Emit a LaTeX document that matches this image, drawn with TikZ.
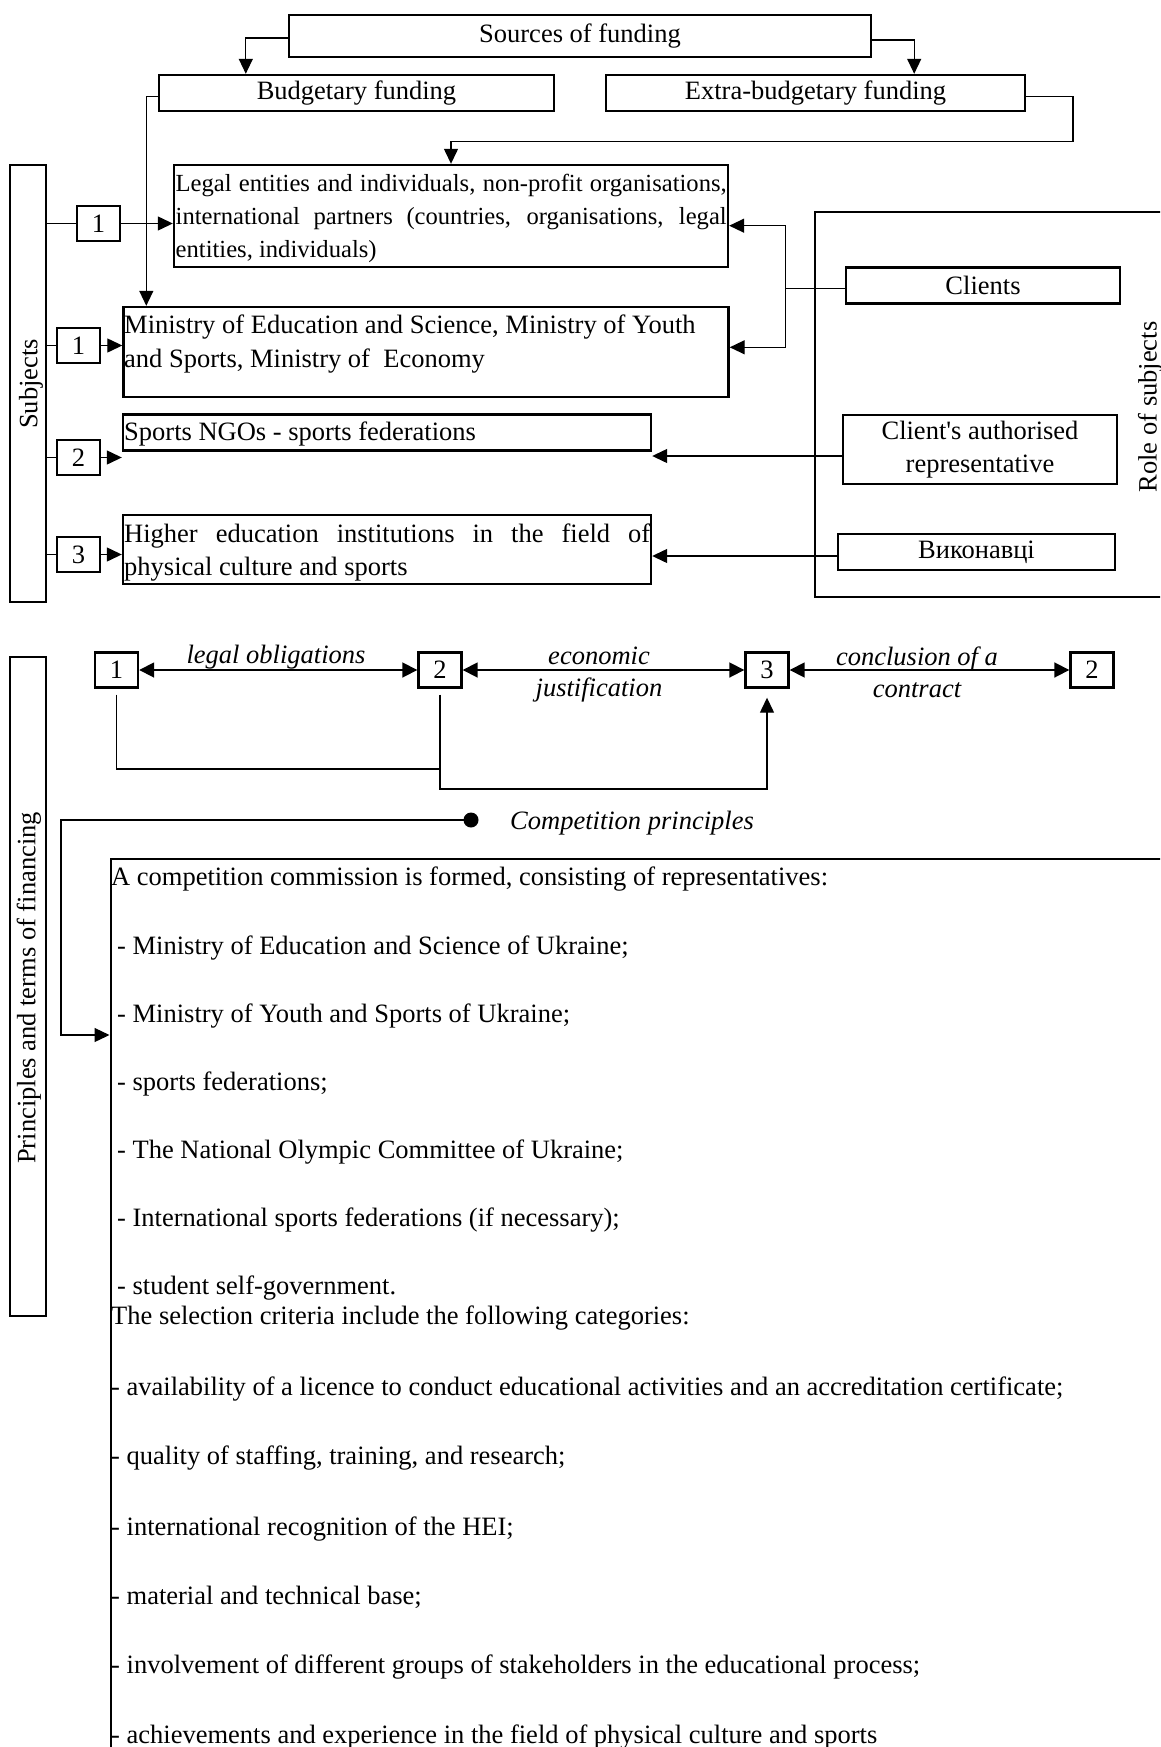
\documentclass[tikz,border=0pt]{standalone}
\usepackage{fontspec}
\setmainfont{Liberation Serif}
\usetikzlibrary{arrows.meta}
\begin{document}
\begin{tikzpicture}[x=1pt,y=-1pt,
  every node/.style={font=\fontsize{26.5}{32.5}\selectfont, inner sep=0pt},
  box/.style={draw, line width=2.4pt, inner sep=0pt, align=center},
  conn/.style={line width=1.3pt},
  arr/.style={conn, -{Triangle[length=15pt,width=14pt]}},
  darr/.style={line width=1.8pt, {Triangle[length=15pt,width=15pt]}-{Triangle[length=15pt,width=15pt]}},
  txt/.style={anchor=mid west, inner sep=0pt, yshift=-6.5pt},
  small/.style={font=\fontsize{24.6}{30}\selectfont},
  itx/.style={font=\fontsize{26.5}{32.5}\selectfont\itshape},
  numbox/.style={box, minimum width=43pt, minimum height=35pt},
]
\useasboundingbox (0,0) rectangle (1160,1747);
\fill[white] (0,0) rectangle (1160,1747);
\clip (0,0) rectangle (1160,1747);

% ---------- funding ----------
\node[box, minimum width=582pt, minimum height=42pt] (src) at (580,36) {Sources of funding};
\node[box, minimum width=395pt, minimum height=36pt] (bud) at (356.5,93) {Budgetary funding};
\node[box, minimum width=419pt, minimum height=36pt] (ext) at (815.5,93) {Extra-budgetary funding};

% ---------- subjects ----------
\node[box, minimum width=554pt, minimum height=102pt] (leg) at (451,216) {};
\node[box, minimum width=605pt, minimum height=90pt] (min) at (426,352) {};
\node[box, minimum width=528pt, minimum height=36pt] (ngo) at (387,432.5) {};
\node[box, minimum width=528pt, minimum height=69pt] (hei) at (387,549.5) {};

\node[txt, small] (leg1) at (175.5,183) {\makebox[551pt][s]{Legal entities and individuals, non-profit organisations,}};
\node[txt, small] (leg2) at (175.5,216) {\makebox[551pt][s]{international partners (countries, organisations, legal}};
\node[txt, small] (leg3) at (175.5,248.5) {entities, individuals)};
\node[txt] (min1) at (124,325) {Ministry of Education and Science, Ministry of Youth};
\node[txt] (min2) at (124,359) {and Sports, Ministry of\ \ Economy};
\node[txt] (ngo1) at (124,432) {Sports NGOs - sports federations};
\node[txt] (hei1) at (124,534) {\makebox[526pt][s]{Higher education institutions in the field of}};
\node[txt] (hei2) at (124,567) {physical culture and sports};

\node[box, minimum width=36pt, minimum height=437pt] (subj) at (28,383.5) {};
\node[rotate=90] (subjt) at (31,384) {Subjects};

\node[numbox] (l1) at (98.5,223.5) {1};
\node[numbox] (s1) at (78.5,345.5) {1};
\node[numbox] (s2) at (78.5,457.5) {2};
\node[numbox] (s3) at (78.5,554.5) {3};

% ---------- roles ----------
\node[box, minimum width=360pt, minimum height=385pt] (role) at (995,404.5) {};
\node[rotate=90] (rolet) at (1150,407) {Role of subjects};
\node[box, minimum width=274pt, minimum height=36pt] (cli) at (983,285.5) {Clients};
\node[box, minimum width=274pt, minimum height=69pt] (rep) at (980,449.5) {Client\textquotesingle s authorised\\representative};
\node[box, minimum width=277pt, minimum height=36pt] (vyk) at (976.5,552) {Виконавці};

% ---------- connectors (top) ----------
\draw[arr] ([yshift=-2pt]src.west) -| ([xshift=88pt]bud.north west);
\draw[arr] ([yshift=-4pt]src.east) -| ([xshift=-112pt]ext.north east);
\draw[arr] ([yshift=-3.7pt]bud.west) -| ([xshift=24pt]min.north west);
\coordinate (extbend) at (1073,141.5);
\draw[arr] ([yshift=-3.7pt]ext.east) -| (extbend) -| (leg.north);

\draw[conn] (subj.east |- l1) -- (l1.west);
\draw[arr] (l1.east) -- (l1.east -| leg.west);
\draw[conn] (subj.east |- s1) -- (s1.west);
\draw[arr] (s1.east) -- (s1.east -| min.west);
\draw[conn] (subj.east |- s2) -- (s2.west);
\draw[arr] (s2.east) -- (s2.east -| ngo.west);
\draw[conn] (subj.east |- s3) -- (s3.west);
\draw[arr] (s3.east) -- (s3.east -| hei.west);

\draw[arr] ([yshift=-3pt]cli.west) -- ++(-59,0) |- ([yshift=-9.7pt]leg.east);
\draw[arr] ([yshift=-3pt]cli.west) -- ++(-59,0) |- ([yshift=4.7pt]min.east);
\draw[arr] ([yshift=-6.5pt]rep.west) -- ([yshift=-6.5pt]rep.west -| ngo.east);
\draw[arr] ([yshift=-4pt]vyk.west) -- ([yshift=-4pt]vyk.west -| hei.east);

% ---------- principles ----------
\node[box, minimum width=36pt, minimum height=659pt] (prin) at (28,986.5) {};
\node[rotate=90] (print) at (29,988) {Principles and terms of financing};

\node[numbox] (p1) at (116.5,670) {1};
\node[numbox] (p2) at (440,670) {2};
\node[numbox] (p3) at (767,670) {3};
\node[numbox] (p4) at (1092,670) {2};
\draw[darr] (p1) -- (p2);
\draw[darr] (p2) -- (p3);
\draw[darr] (p3) -- (p4);
\node[itx] (lo) at (276,657.5) {legal obligations};
\node[itx, align=center] (ej) at (599,674.5) {economic\\justification};
\node[itx, align=center] (cc) at (917,672.5) {conclusion of a\\contract};

\coordinate (b1) at (116.5,769);
\coordinate (b2) at (440,789);
\draw[conn] ([yshift=-6pt]p1.south) -- (b1) -- (b1 -| p2);
\draw[arr] ([yshift=-6pt]p2.south) -- (b2) -| ([yshift=-9pt]p3.south);

\node[circle, fill, minimum size=15pt, inner sep=0pt] (dot) at (471,820) {};
\node[itx, anchor=mid west, yshift=-5.5pt] (comp) at (510,822) {Competition principles};

\node[box, minimum width=1100pt, minimum height=1000pt, anchor=north west] (big) at (109.5,857.5) {};
\coordinate (cb) at (61,1035);
\draw[arr] (dot.center) -| (cb) -- (cb -| big.west);

\node[txt] (t1) at (111,877) {A competition commission is formed, consisting of representatives:};
\node[txt] (t2) at (117,946) {- Ministry of Education and Science of Ukraine;};
\node[txt] (t3) at (117,1014) {- Ministry of Youth and Sports of Ukraine;};
\node[txt] (t4) at (117,1082) {- sports federations;};
\node[txt] (t5) at (117,1150) {- The National Olympic Committee of Ukraine;};
\node[txt] (t6) at (117,1218) {- International sports federations (if necessary);};
\node[txt] (t7) at (117,1286) {- student self-government.};
\node[txt] (t8) at (111,1316) {The selection criteria include the following categories:};
\node[txt] (t9) at (111,1387) {- availability of a licence to conduct educational activities and an accreditation certificate;};
\node[txt] (t10) at (111,1456) {- quality of staffing, training, and research;};
\node[txt] (t11) at (111,1527) {- international recognition of the HEI;};
\node[txt] (t12) at (111,1596) {- material and technical base;};
\node[txt] (t13) at (111,1665) {- involvement of different groups of stakeholders in the educational process;};
\node[txt] (t14) at (111,1735) {- achievements and experience in the field of physical culture and sports};
\end{tikzpicture}
\end{document}
